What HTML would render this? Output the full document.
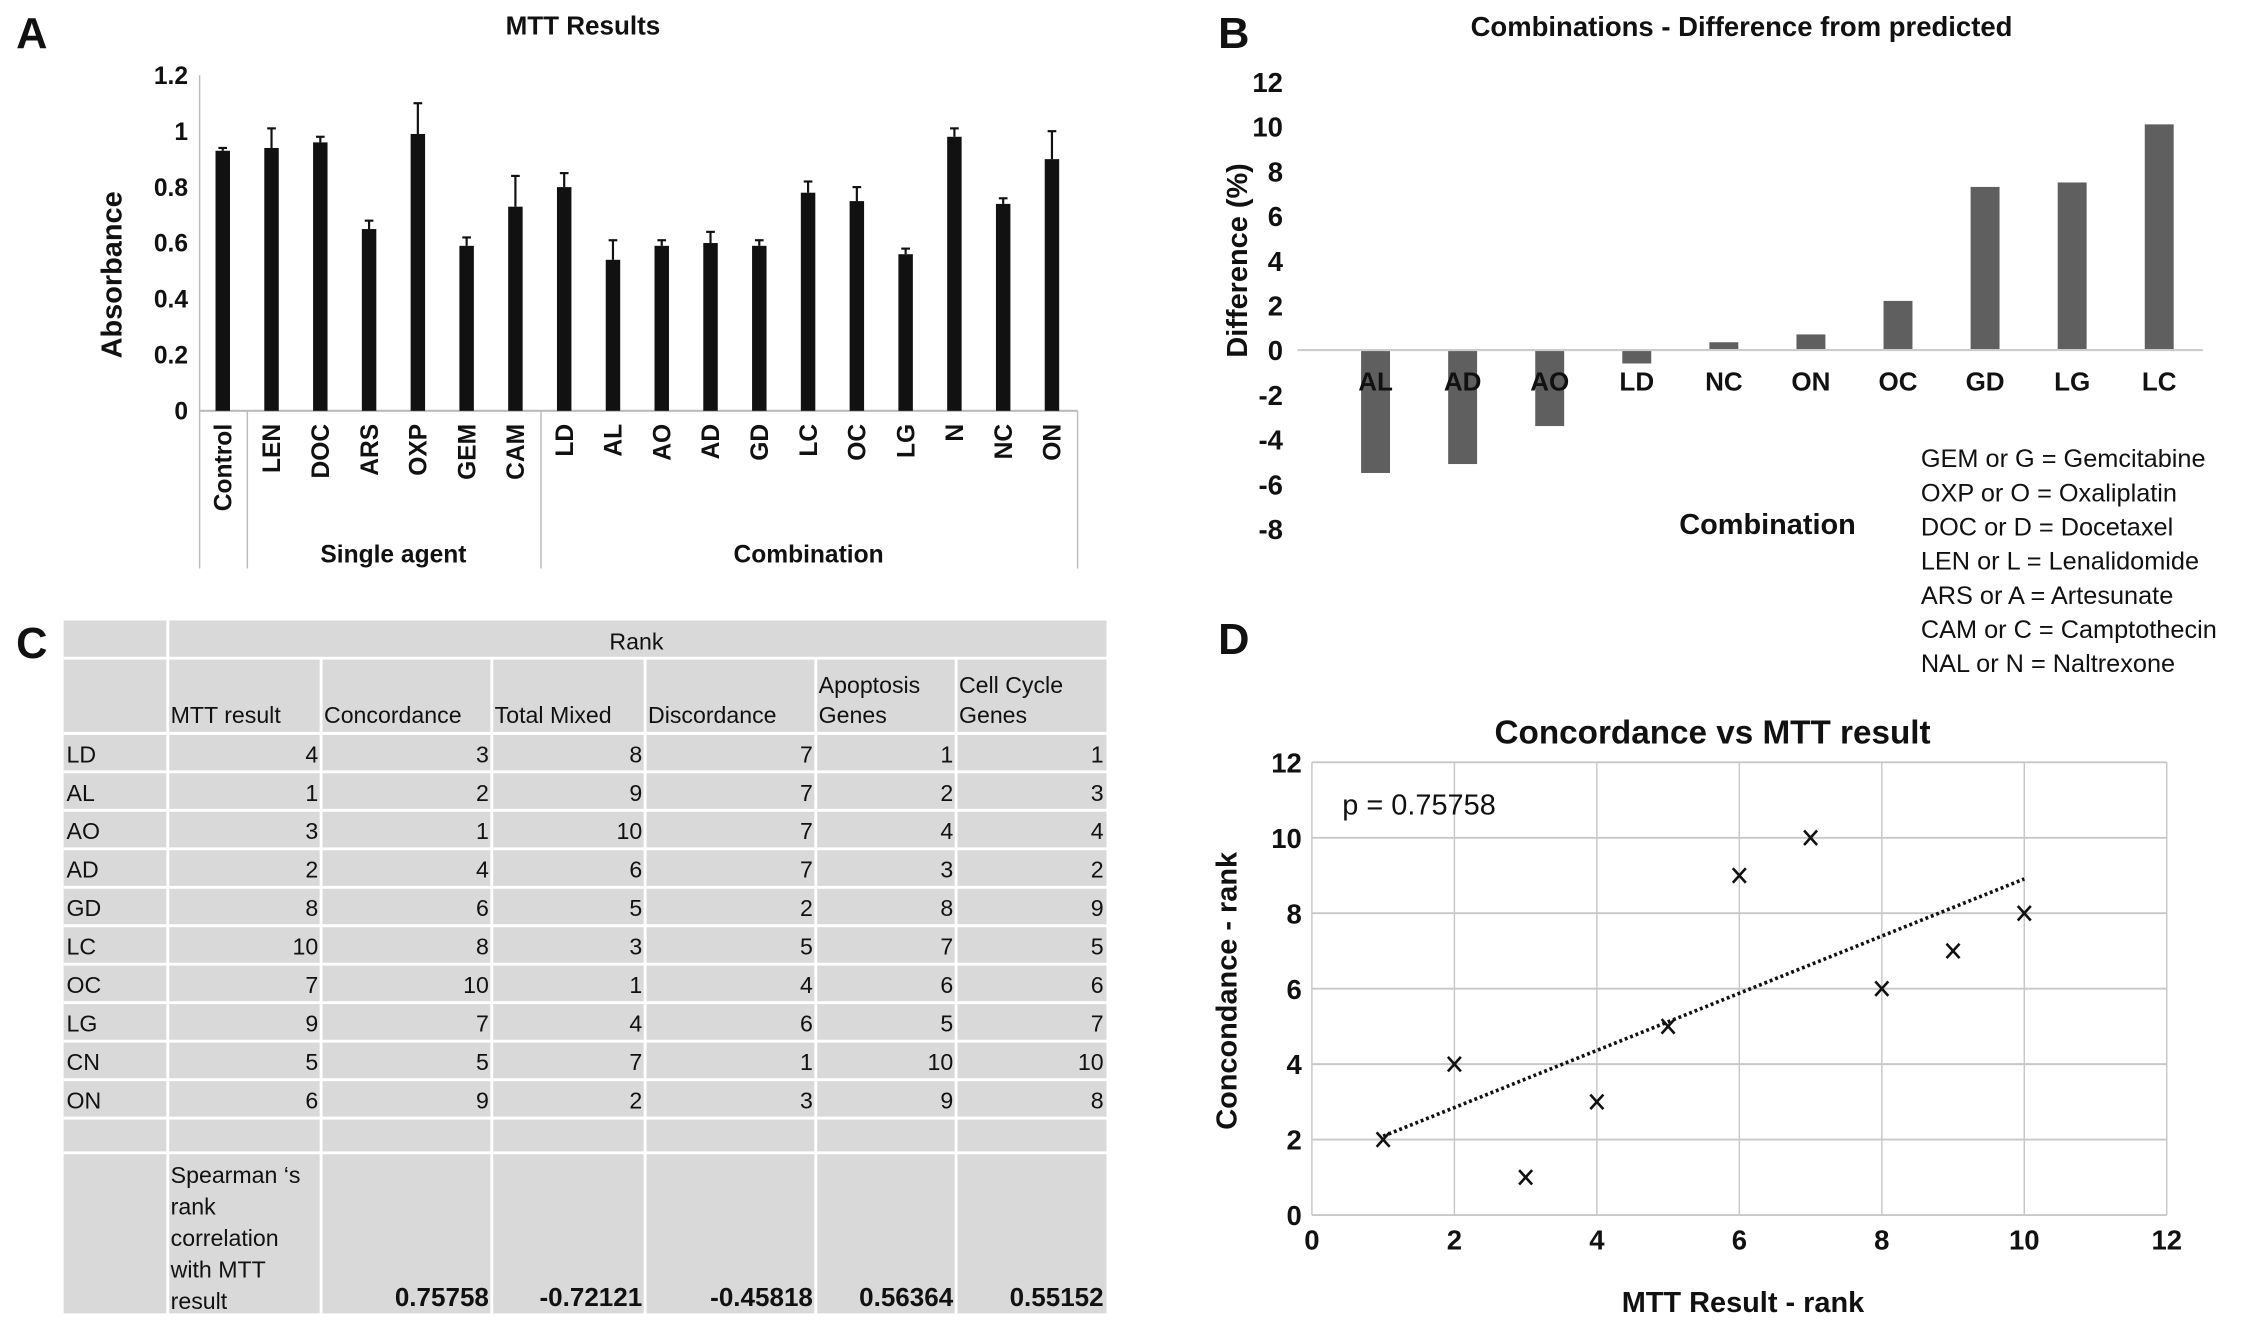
<!DOCTYPE html>
<html><head><meta charset="utf-8">
<style>
html,body{margin:0;padding:0;background:#fff;}
svg{display:block;}
text{font-family:"Liberation Sans",Arial,sans-serif;fill:#111;}
</style></head>
<body>
<svg id="fig" width="2268" height="1325" viewBox="0 0 1568 916" xmlns="http://www.w3.org/2000/svg">
  <rect x="0" y="0" width="1568" height="916" fill="#fff"/>
  <g id="pA"></g>
  <g id="pB"></g>
  <g id="pC"></g>
  <g id="pD"></g>
</svg>
<script>
// ---------- Panel A data ----------
const aCategories = ["Control","LEN","DOC","ARS","OXP","GEM","CAM","LD","AL","AO","AD","GD","LC","OC","LG","N","NC","ON"];
const aValues = [0.93,0.94,0.96,0.65,0.99,0.59,0.73,0.80,0.54,0.59,0.60,0.59,0.78,0.75,0.56,0.98,0.74,0.90];
const aErrors = [0.01,0.07,0.02,0.03,0.11,0.03,0.11,0.05,0.07,0.02,0.04,0.02,0.04,0.05,0.02,0.03,0.02,0.10];
const aTicks = [0,0.2,0.4,0.6,0.8,1,1.2];
const aTickLabels = ["0","0.2","0.4","0.6","0.8","1","1.2"];
// ---------- Panel B data ----------
const bCategories = ["AL","AD","AO","LD","NC","ON","OC","GD","LG","LC"];
const bValues = [-5.5,-5.1,-3.4,-0.6,0.35,0.7,2.2,7.3,7.5,10.1];
const bTicks = [-8,-6,-4,-2,0,2,4,6,8,10,12];
const bLegend = ["GEM or G = Gemcitabine","OXP or O = Oxaliplatin","DOC or D = Docetaxel","LEN or L = Lenalidomide","ARS or A = Artesunate","CAM or C = Camptothecin","NAL or N = Naltrexone"];
// ---------- Panel C data ----------
const cRowLabels = ["LD","AL","AO","AD","GD","LC","OC","LG","CN","ON"];
const cHeaders = [["MTT result"],["Concordance"],["Total Mixed"],["Discordance"],["Apoptosis","Genes"],["Cell Cycle","Genes"]];
const cMTT = [4,1,3,2,8,10,7,9,5,6];
const cConcordance = [3,2,1,4,6,8,10,7,5,9];
const cTotalMixed = [8,9,10,6,5,3,1,4,7,2];
const cDiscordance = [7,7,7,7,2,5,4,6,1,3];
const cApoptosis = [1,2,4,3,8,7,6,5,10,9];
const cCellCycle = [1,3,4,2,9,5,6,7,10,8];
const cSpearman = ["0.75758","-0.72121","-0.45818","0.56364","0.55152"];
// ---------- Panel D data ----------
const dX = [1,2,3,4,5,6,7,8,9,10];
const dY = [2,4,1,3,5,9,10,6,7,8];
const dTicks = [0,2,4,6,8,10,12];

const NS = "http://www.w3.org/2000/svg";
function mk(parent, tag, attrs, txt){
  const e = document.createElementNS(NS, tag);
  for (const k in attrs) e.setAttribute(k, attrs[k]);
  if (txt !== undefined) e.textContent = txt;
  parent.appendChild(e);
  return e;
}

// ================= Panel A =================
(function(){
  const g = document.getElementById('pA');
  const x0 = 138, x1 = 745, y0 = 284, yTop = 52;
  const yS = v => y0 - v / 1.2 * (y0 - yTop);
  const step = (x1 - x0) / 18;
  const xS = i => x0 + 16 + step * i;
  let t = mk(g,'text',{x:22,y:33,'font-size':30,'font-weight':'bold','text-anchor':'middle'},'A');
   
  t = mk(g,'text',{x:403,y:24,'font-size':18,'font-weight':'bold','text-anchor':'middle'},'MTT Results');
   
  t = mk(g,'text',{x:0,y:0,'font-size':20,'font-weight':'bold','text-anchor':'middle',transform:'translate(84,190) rotate(-90)'},'Absorbance');
   
  mk(g,'line',{x1:x0,y1:yTop,x2:x0,y2:y0,stroke:'#bbb','stroke-width':1});
  aTicks.forEach((v,i)=>{
    const tt = mk(g,'text',{x:130,y:yS(v)+6,'font-size':17,'font-weight':'bold','text-anchor':'end'},aTickLabels[i]);
     
  });
  mk(g,'line',{x1:x0,y1:y0,x2:x1,y2:y0,stroke:'#bbb','stroke-width':1.5});
  [138,171,374,745].forEach(x=>mk(g,'line',{x1:x,y1:y0,x2:x,y2:393,stroke:'#bbb','stroke-width':1}));
  aCategories.forEach((c,i)=>{
    const cx = xS(i), v = aValues[i], e = aErrors[i];
    const r = mk(g,'rect',{x:cx-5,y:yS(v),width:10,height:y0-yS(v),fill:'#111'});
     
    mk(g,'line',{x1:cx,y1:yS(v),x2:cx,y2:yS(v+e),stroke:'#111','stroke-width':1.5});
    mk(g,'line',{x1:cx-3,y1:yS(v+e),x2:cx+3,y2:yS(v+e),stroke:'#111','stroke-width':1.5});
    const lt = mk(g,'text',{x:0,y:0,'font-size':17,'font-weight':'bold','text-anchor':'end',transform:`translate(${cx+6},293) rotate(-90)`},c);
     
  });
  t = mk(g,'text',{x:272,y:389,'font-size':17,'font-weight':'bold','text-anchor':'middle'},'Single agent');
   
  t = mk(g,'text',{x:559,y:389,'font-size':17,'font-weight':'bold','text-anchor':'middle'},'Combination');
   
})();

// ================= Panel B =================
(function(){
  const g = document.getElementById('pB');
  const y0 = 242, per = (366-57)/20;
  const yS = v => y0 - v * per;
  const xL = 897, xR = 1523, step = 60.2;
  const xS = i => 951 + step * i;
  let t = mk(g,'text',{x:853,y:33,'font-size':30,'font-weight':'bold','text-anchor':'middle'},'B');
   
  t = mk(g,'text',{x:1204,y:25,'font-size':19,'font-weight':'bold','text-anchor':'middle'},'Combinations - Difference from predicted');
   
  t = mk(g,'text',{x:0,y:0,'font-size':20,'font-weight':'bold','text-anchor':'middle',transform:'translate(862,180) rotate(-90)'},'Difference (%)');
   
  bTicks.forEach(v=>{
    const tt = mk(g,'text',{x:887,y:yS(v)+7,'font-size':19,'font-weight':'bold','text-anchor':'end'},String(v));
     
  });
  bValues.forEach((v,i)=>{
    const cx = xS(i);
    const r = mk(g,'rect',{x:cx-10,y:Math.min(yS(v),y0),width:20,height:Math.abs(yS(v)-y0),fill:'#5f5f5f'});
     
  });
  mk(g,'line',{x1:xL,y1:y0,x2:xR,y2:y0,stroke:'#ccc','stroke-width':1.5});
  bCategories.forEach((c,i)=>{
    const tt = mk(g,'text',{x:xS(i),y:270,'font-size':18,'font-weight':'bold','text-anchor':'middle'},c);
     
  });
  t = mk(g,'text',{x:1222,y:369,'font-size':20,'font-weight':'bold','text-anchor':'middle'},'Combination');
   
  bLegend.forEach((s,i)=>{
    const tt = mk(g,'text',{x:1328,y:323+i*23.6,'font-size':17.5},s);
     
  });
})();

// ================= Panel C =================
(function(){
  const g = document.getElementById('pC');
  let t = mk(g,'text',{x:22,y:455,'font-size':30,'font-weight':'bold','text-anchor':'middle'},'C');
   
  const L = 44, R = 765, T = 428, B = 908;
  const cols = [44,116,222,340,446,564,661,765];
  const rowTop = 507, rowH = 26.6;
  mk(g,'rect',{x:L,y:T,width:R-L,height:B-T,fill:'#d9d9d9'});
  const hl = [T,455,507];
  for (let k=1;k<=10;k++) hl.push(rowTop+rowH*k);
  hl.push(797);
  hl.forEach(y=>mk(g,'line',{x1:L,y1:y,x2:R,y2:y,stroke:'#fff','stroke-width':2}));
  mk(g,'line',{x1:116,y1:T,x2:116,y2:B,stroke:'#fff','stroke-width':2});
  cols.slice(2,7).forEach(x=>mk(g,'line',{x1:x,y1:455,x2:x,y2:B,stroke:'#fff','stroke-width':2}));
  t = mk(g,'text',{x:440,y:449,'font-size':16,'text-anchor':'middle'},'Rank');
   
  cHeaders.forEach((h,i)=>{
    h.forEach((line,j)=>{
      const tt = mk(g,'text',{x:cols[i+1]+2,y:500-(h.length-1-j)*21,'font-size':16},line);
       
    });
  });
  const colsData = [cMTT,cConcordance,cTotalMixed,cDiscordance,cApoptosis,cCellCycle];
  cRowLabels.forEach((r,i)=>{
    const y = rowTop + rowH*i + 20;
    const tt = mk(g,'text',{x:L+2,y:y,'font-size':16},r);
     
    colsData.forEach((arr,j)=>{
      const c = mk(g,'text',{x:cols[j+2]-2,y:y,'font-size':16,'text-anchor':'end'},String(arr[i]));
       
    });
  });
  ["Spearman \u2018s","rank","correlation","with MTT","result"].forEach((s,i)=>{
    const tt = mk(g,'text',{x:118,y:818+i*21.7,'font-size':16},s);
     
  });
  cSpearman.forEach((s,j)=>{
    const tt = mk(g,'text',{x:cols[j+3]-2,y:903,'font-size':18,'font-weight':'bold','text-anchor':'end'},s);
     
  });
})();

// ================= Panel D =================
(function(){
  const g = document.getElementById('pD');
  const X0 = 907, X1 = 1498, Y0 = 840, Y1 = 527;
  const xS = v => X0 + v/12*(X1-X0);
  const yS = v => Y0 - v/12*(Y0-Y1);
  let t = mk(g,'text',{x:853,y:452,'font-size':30,'font-weight':'bold','text-anchor':'middle'},'D');
   
  t = mk(g,'text',{x:1184,y:514,'font-size':23,'font-weight':'bold','text-anchor':'middle'},'Concordance vs MTT result');
   
  dTicks.forEach(v=>{
    mk(g,'line',{x1:xS(v),y1:Y1,x2:xS(v),y2:Y0,stroke:'#c8c8c8','stroke-width':1});
    mk(g,'line',{x1:X0,y1:yS(v),x2:X1,y2:yS(v),stroke:'#c8c8c8','stroke-width':1.3});
    const a = mk(g,'text',{x:xS(v),y:864,'font-size':19,'font-weight':'bold','text-anchor':'middle'},String(v));
     
    const b = mk(g,'text',{x:900,y:yS(v)+7,'font-size':19,'font-weight':'bold','text-anchor':'end'},String(v));
     
  });
  t = mk(g,'text',{x:928,y:563,'font-size':20},'p = 0.75758');
   
  const n = dX.length, mx = dX.reduce((a,b)=>a+b)/n, my = dY.reduce((a,b)=>a+b)/n;
  let sxy=0, sxx=0; for(let i=0;i<n;i++){sxy+=(dX[i]-mx)*(dY[i]-my); sxx+=(dX[i]-mx)**2;}
  const sl = sxy/sxx, ic = my - sl*mx;
  const xa = Math.min(...dX), xb = Math.max(...dX);
  const tl = mk(g,'line',{x1:xS(xa),y1:yS(sl*xa+ic),x2:xS(xb),y2:yS(sl*xb+ic),stroke:'#111','stroke-width':2.5,'stroke-dasharray':'2 2'});
   
  dX.forEach((x,i)=>{
    const cx = xS(x), cy = yS(dY[i]);
    const m = mk(g,'path',{d:`M${cx-4.5},${cy-5}L${cx+4.5},${cy+5}M${cx+4.5},${cy-5}L${cx-4.5},${cy+5}`,stroke:'#111','stroke-width':1.8,fill:'none'});
     
  });
  t = mk(g,'text',{x:0,y:0,'font-size':20,'font-weight':'bold','text-anchor':'middle',transform:'translate(855,685) rotate(-90)'},'Concondance - rank');
   
  t = mk(g,'text',{x:1205,y:907,'font-size':20,'font-weight':'bold','text-anchor':'middle'},'MTT Result - rank');
   
})();
</script>
</body></html>
